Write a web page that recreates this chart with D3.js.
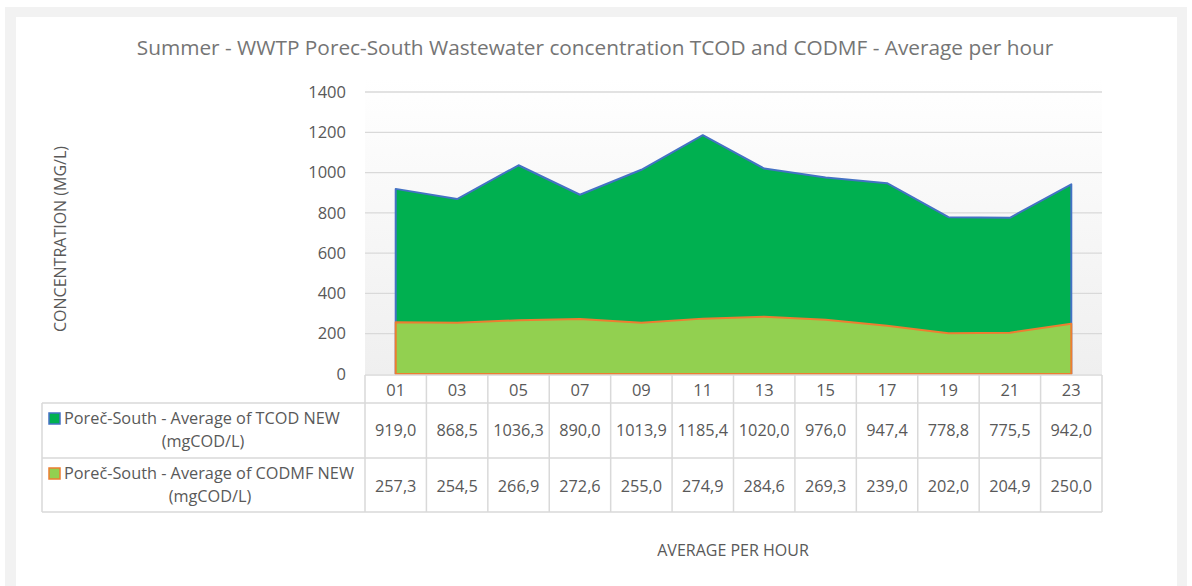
<!DOCTYPE html>
<html>
<head>
<meta charset="UTF-8">
<title>Summer - WWTP Porec-South</title>
<script src="https://d3js.org/d3.v7.min.js"></script>
<style>
  body { margin: 0; background: #fff; }
  svg { display: block; font-family: "Open Sans", sans-serif; }
</style>
</head>
<body>
<svg width="1192" height="586"></svg>
<script>
const hours = ["01", "03", "05", "07", "09", "11", "13", "15", "17", "19", "21", "23"];
const tcod = [919.0, 868.5, 1036.3, 890.0, 1013.9, 1185.4, 1020.0, 976.0, 947.4, 778.8, 775.5, 942.0];
const codmf = [257.3, 254.5, 266.9, 272.6, 255.0, 274.9, 284.6, 269.3, 239.0, 202.0, 204.9, 250.0];
const yTicks = [0, 200, 400, 600, 800, 1000, 1200, 1400];
const seriesNames = [
  ["Poreč-South - Average of TCOD NEW", "(mgCOD/L)"],
  ["Poreč-South - Average of CODMF NEW", "(mgCOD/L)"]
];

const svg = d3.select("svg");
const plotL = 365, plotR = 1102, plotT = 92, plotB = 374;
const grid = "#d9d9d9", txt = "#595959";

// outer frame
svg.append("rect").attr("x", 5).attr("y", 7).attr("width", 1182).attr("height", 590).attr("fill", "#f2f2f2");
svg.append("rect").attr("x", 16).attr("y", 17).attr("width", 1161).attr("height", 580).attr("fill", "#fff");

// plot background gradient
const grad = svg.append("defs").append("linearGradient").attr("id", "bg")
  .attr("x1", 0).attr("y1", 0).attr("x2", 0).attr("y2", 1);
grad.append("stop").attr("offset", "0%").attr("stop-color", "#ffffff");
grad.append("stop").attr("offset", "100%").attr("stop-color", "#efefef");
svg.append("rect").attr("x", plotL).attr("y", 78).attr("width", plotR - plotL).attr("height", plotB - 78)
  .attr("fill", "url(#bg)");

const x = d3.scaleBand().domain(hours).range([plotL, plotR]);
const y = d3.scaleLinear().domain([0, 1400]).range([plotB, plotT]);
const cx = h => x(h) + x.bandwidth() / 2;

// gridlines
svg.append("g").selectAll("line").data(yTicks.slice(1)).join("line")
  .attr("x1", plotL).attr("x2", plotR)
  .attr("y1", d => y(d)).attr("y2", d => y(d))
  .attr("stroke", grid).attr("stroke-width", 1.3);

svg.append("g").selectAll("text").data(yTicks).join("text")
  .attr("x", 346).attr("y", d => y(d)).attr("dy", "0.35em")
  .attr("text-anchor", "end").attr("font-size", 16.5).attr("fill", txt)
  .text(d => d);

// areas
const area = vals => d3.area()
  .x((d, i) => cx(hours[i]))
  .y0(y(0)).y1(d => y(d))(vals);

svg.append("path").attr("d", area(tcod)).attr("fill", "#00b050")
  .attr("stroke", "#4472c4").attr("stroke-width", 2).attr("stroke-linejoin", "round");
svg.append("path").attr("d", area(codmf)).attr("fill", "#92d050")
  .attr("stroke", "#ed7d31").attr("stroke-width", 2).attr("stroke-linejoin", "round");

// data table
const rowY = [375, 403, 458, 512];
const tbl = svg.append("g").attr("stroke", grid).attr("stroke-width", 1.5);
tbl.selectAll(".h").data(rowY).join("line")
  .attr("x1", (d, i) => i === 0 ? plotL : 42).attr("x2", plotR)
  .attr("y1", d => d).attr("y2", d => d);
tbl.selectAll(".v").data(hours.concat(["end"])).join("line")
  .attr("x1", (d, i) => plotL + i * x.bandwidth()).attr("x2", (d, i) => plotL + i * x.bandwidth())
  .attr("y1", rowY[0]).attr("y2", rowY[3]);
tbl.append("line").attr("x1", 42).attr("x2", 42).attr("y1", rowY[1]).attr("y2", rowY[3]);

svg.append("g").selectAll("text").data(hours).join("text")
  .attr("x", cx).attr("y", 390).attr("dy", "0.35em")
  .attr("text-anchor", "middle").attr("font-size", 16.5).attr("fill", txt)
  .text(d => d);

const fmt = v => v.toFixed(1).replace(".", ",");
[tcod, codmf].forEach((vals, r) => {
  svg.append("g").selectAll("text").data(vals).join("text")
    .attr("x", (d, i) => cx(hours[i])).attr("y", r === 0 ? 430 : 486).attr("dy", "0.35em")
    .attr("text-anchor", "middle").attr("font-size", 16.3).attr("fill", txt)
    .text(fmt);
});

// legend cells
const legFill = ["#00b050", "#92d050"], legStroke = ["#4472c4", "#ed7d31"];
seriesNames.forEach((lines, r) => {
  const y0 = r === 0 ? 418 : 473;
  svg.append("rect").attr("x", 49).attr("y", y0 - 5).attr("width", 11).attr("height", 11)
    .attr("fill", legFill[r]).attr("stroke", legStroke[r]).attr("stroke-width", 1.5);
  svg.append("text").attr("x", 64).attr("y", y0).attr("dy", "0.35em")
    .attr("font-size", 16.3).attr("fill", txt).text(lines[0]);
  svg.append("text").attr("x", r === 0 ? 203 : 210).attr("y", y0 + 23).attr("dy", "0.35em")
    .attr("text-anchor", "middle").attr("font-size", 16.3).attr("fill", txt).text(lines[1]);
});

// titles
svg.append("text").attr("x", 595).attr("y", 48).attr("dy", "0.35em")
  .attr("text-anchor", "middle").attr("font-size", 20.8).attr("fill", "#757575")
  .text("Summer - WWTP Porec-South Wastewater concentration TCOD and CODMF - Average per hour");
svg.append("text").attr("transform", "translate(60,239) rotate(-90)").attr("dy", "0.35em")
  .attr("text-anchor", "middle").attr("font-size", 16).attr("fill", txt)
  .text("CONCENTRATION (MG/L)");
svg.append("text").attr("x", 733).attr("y", 550).attr("dy", "0.35em")
  .attr("text-anchor", "middle").attr("font-size", 16).attr("fill", txt)
  .text("AVERAGE PER HOUR");
</script>
</body>
</html>
